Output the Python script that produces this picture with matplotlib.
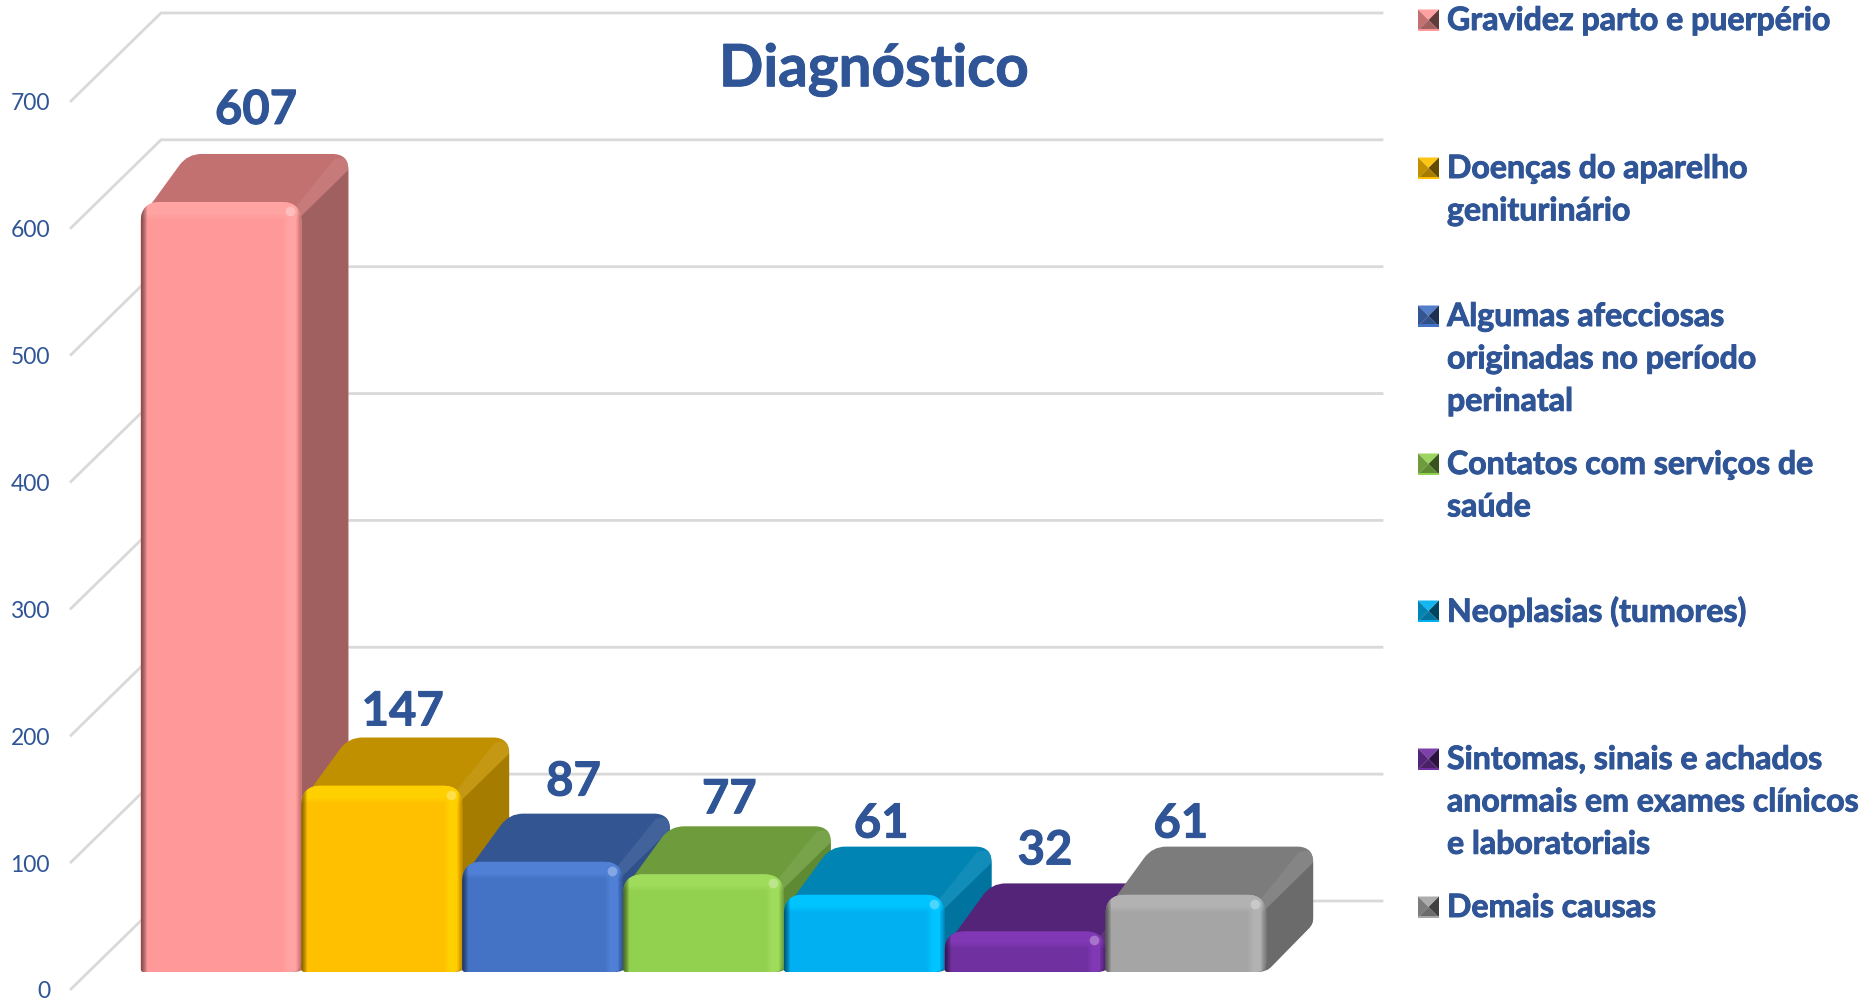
import matplotlib
matplotlib.use('Agg')
import matplotlib.pyplot as plt
import matplotlib.patheffects as pe
from matplotlib.colors import to_rgb
from matplotlib.patches import PathPatch, Polygon
from matplotlib.path import Path

plt.rcParams['font.family'] = ['Lato', 'DejaVu Sans']

categories = ['Gravidez parto e puerpério', 'Doenças do aparelho\ngeniturinário',
              'Algumas afecciosas\noriginadas no período\nperinatal',
              'Contatos com serviços de\nsaúde', 'Neoplasias (tumores)',
              'Sintomas, sinais e achados\nanormais em exames clínicos\ne laboratoriais',
              'Demais causas']
values = [607, 147, 87, 77, 61, 32, 61]
ticks = [0, 100, 200, 300, 400, 500, 600, 700]

front = ['#FF9999', '#FFC000', '#4472C4', '#92D050', '#00B0F0', '#7030A0', '#A5A5A5']
top = ['#C27070', '#C09000', '#335693', '#6E9C3C', '#0084B4', '#542478', '#7C7C7C']
side = ['#A16060', '#A67C00', '#2F5088', '#5F8A34', '#00739E', '#4A2069', '#6B6B6B']
# bevel band on the front face, a bit brighter than the face
band = ['#FFA3A3', '#FFD000', '#4F80D6', '#A0DC5C', '#00C4FF', '#8038B4', '#B2B2B2']
# label offsets from the bar top, pixels (placed by hand in the original)
label_dx = [35, 21, 31, 26, 17, 20, -5]
label_dy = [92, 74, 80, 75, 71, 81, 71]

TEXT = '#2F5597'
GRID = '#D9D9D9'
W, H = 1868, 999

fig = plt.figure(figsize=(W / 100, H / 100), dpi=100)
ax = fig.add_axes([0, 0, 1, 1])
ax.axis('off')

# scales: one category = 160.8 px, 100 units = 126.86 px
PX_X = 160.8
PX_Y = 1.2686
X0 = 221
Y0 = 972
ax.set_xlim(-X0 / PX_X, (W - X0) / PX_X)
ax.set_ylim((Y0 - H) / PX_Y, Y0 / PX_Y)
BOLD = [pe.withStroke(linewidth=0.7, foreground=TEXT)]


def dx(px):
    return px / PX_X


def dy(px):
    return px / PX_Y


def mix(c, other, t):
    a, b = to_rgb(c), to_rgb(other)
    return tuple(a[k] * (1 - t) + b[k] * t for k in range(3))


def poly(pts, color, z, alpha=1.0, clip=None):
    p = Polygon(pts, closed=True, fc=color, ec='none', alpha=alpha, zorder=z)
    ax.add_patch(p)
    if clip is not None:
        p.set_clip_path(clip)
    return p


def rounded(pts, radii, color, z):
    # polygon with rounded corners, radius given in px for every corner
    verts, codes = [], []
    n = len(pts)
    for k in range(n):
        x, y = pts[k]
        r = radii[k]
        if r == 0:
            verts.append((x, y))
            codes.append(Path.LINETO)
            continue
        for j, other in enumerate((pts[k - 1], pts[(k + 1) % n])):
            ox, oy = other
            l = (((ox - x) * PX_X) ** 2 + ((oy - y) * PX_Y) ** 2) ** 0.5
            p = (x + (ox - x) * r / l, y + (oy - y) * r / l)
            if j == 0:
                verts.append(p)
                codes.append(Path.LINETO)
            else:
                verts += [(x, y), p]
                codes += [Path.CURVE3, Path.CURVE3]
    codes[0] = Path.MOVETO
    verts.append(verts[0])
    codes.append(Path.CLOSEPOLY)
    patch = PathPatch(Path(verts, codes), fc=color, ec='none', zorder=z)
    ax.add_patch(patch)
    return patch


# wall gridlines
for t in ticks:
    fx, fy = dx(71 - X0), t + dy(Y0 - 989)
    bx, by = dx(161 - X0), t + dy(Y0 - 901)
    ax.plot([fx, bx, dx(1382 - X0)], [fy, by, by], color=GRID, lw=2, zorder=1,
            solid_joinstyle='miter')
    ax.text(dx(50 - X0), fy - dy(3), str(t), color=TEXT, fontsize=16.5, ha='right', va='center')

half = 0.5
DX, DY = dx(47), dy(48)
for i, v in enumerate(values):
    z = 10 + i
    l, r = i - half, i + half
    # whole silhouette of top and side, then the side face on it
    body = rounded([(l + dx(7), v - dy(7)), (l + DX, v + DY), (r + DX, v + DY), (r + DX, DY), (r, 0),
                    (l + dx(7), 0)], [0, 14, 16, 6, 8, 0], top[i], z)
    poly([(r - dx(9), v - dy(9)), (r + DX - dx(14), v + DY - dy(5)), (r + DX, v + DY - dy(3)),
          (r + DX, v + DY - dy(16)), (r + dx(3), v - dy(20))], mix(top[i], 'white', 0.07), z, clip=body)
    poly([(r, 0), (r + DX, DY), (r + DX, v + DY - dy(16)), (r, v - dy(14))], side[i], z, clip=body)
    # front face, bevels clipped to it
    face = rounded([(l, 0), (l, v), (r, v), (r, 0)], [3, 20, 20, 10], front[i], z)
    poly([(l, v), (r, v), (r, v - dy(12)), (l, v - dy(12))], band[i], z, clip=face)
    for k in range(5):
        poly([(l, v - dy(12 + k)), (r, v - dy(12 + k)), (r, v - dy(13 + k)), (l, v - dy(13 + k))],
             band[i], z, 1 - (k + 1) / 6, clip=face)
        # light strip near the right edge, fading both ways
        poly([(r - dx(14 + k), 0), (r - dx(14 + k), v), (r - dx(13 + k), v), (r - dx(13 + k), 0)],
             band[i], z, 1 - (k + 1) / 6, clip=face)
    poly([(r - dx(13), 0), (r - dx(13), v), (r - dx(5), v), (r - dx(5), 0)], band[i], z, clip=face)
    # dark rim on the left, thin one on the right
    for k in range(6):
        poly([(l, 0), (l, v), (l + dx(k + 1), v), (l + dx(k + 1), 0)], 'black', z, 0.10, clip=face)
    for k in range(4):
        poly([(r - dx(k + 1), 0), (r - dx(k + 1), v), (r, v), (r, 0)], 'black', z, 0.06, clip=face)
    # small glint in the corner
    ax.plot([r - dx(11)], [v - dy(9)], 'o', ms=7, mfc='white', mec='none', alpha=0.3, zorder=z)
    ax.text(i + dx(label_dx[i]), v + dy(label_dy[i]), str(v), color=TEXT, fontsize=34,
            fontweight='bold', ha='center', va='center', zorder=30, path_effects=BOLD)

ax.text(dx(874 - X0), dy(Y0 - 70), 'Diagnóstico', color=TEXT, fontsize=42,
        fontweight='bold', ha='center', va='center', zorder=30, path_effects=BOLD)

# legend drawn by hand, the markers are little pyramids
leg_y = [20, 168, 316, 464, 611, 759, 907]
LINE = 42.4
for i, name in enumerate(categories):
    yc = dy(Y0 - leg_y[i])
    x1, x2 = dx(1418 - X0), dx(1439 - X0)
    y1, y2 = yc - dy(10.5), yc + dy(10.5)
    mx, my = (x1 + x2) / 2, yc
    poly([(x1, y2), (x2, y2), (mx, my)], mix(front[i], 'white', 0.08), 40)
    poly([(x1, y1), (x1, y2), (mx, my)], top[i], 40)
    poly([(x2, y1), (x2, y2), (mx, my)], mix(side[i], 'black', 0.4), 40)
    poly([(x1, y1), (x2, y1), (mx, my)], side[i], 40)
    poly([(x1, y1), (x2, y1), (x2, y1 + dy(2)), (x1, y1 + dy(2))], front[i], 41)
    for k, line in enumerate(name.split('\n')):
        ax.text(dx(1447 - X0), yc - dy(k * LINE + 0.5), line, color=TEXT, fontsize=23.1,
                fontweight='bold', ha='left', va='center', zorder=40, path_effects=BOLD)

fig.savefig('out.png', dpi=100, facecolor='white')
